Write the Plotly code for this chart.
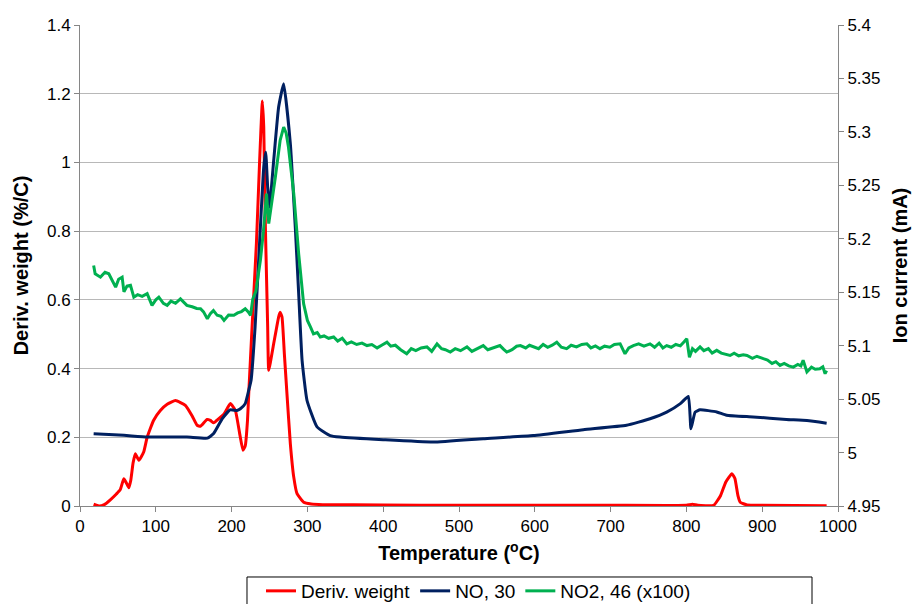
import plotly.graph_objects as go

# ---------------- data ----------------
# Deriv. weight (%/C), left axis
red_temp = [18, 25, 32, 40, 48, 53, 57.8, 61, 64.4, 67, 70, 73, 77.6, 84, 88.6, 97, 106, 115, 126,
            139, 148, 154.5, 159, 167.7, 172, 176.4, 182, 190, 198.4, 205, 210.7, 215, 218, 221,
            222.6, 227, 232.7, 237, 240.6, 242.4, 244.6, 247.6, 249, 255.5, 262, 264, 266.5,
            269.6, 273, 277.5, 282, 286.3, 295, 305, 320, 400, 500, 600, 700, 800, 808, 815,
            836, 845, 852, 860, 864, 868, 871, 880, 900, 985]
red_val = [0.005, 0.0, 0.004, 0.018, 0.035, 0.047, 0.079, 0.068, 0.053, 0.075, 0.125, 0.152,
           0.133, 0.157, 0.2, 0.249, 0.278, 0.296, 0.307, 0.293, 0.262, 0.235, 0.232, 0.252,
           0.249, 0.242, 0.252, 0.268, 0.298, 0.278, 0.21, 0.162, 0.175, 0.25, 0.327, 0.521,
           0.763, 1.006, 1.179, 1.103, 0.81, 0.521, 0.395, 0.472, 0.55, 0.564, 0.55, 0.443,
           0.328, 0.181, 0.084, 0.036, 0.011, 0.006, 0.004, 0.003, 0.002, 0.002, 0.002, 0.002,
           0.005, 0.002, 0.002, 0.03, 0.07, 0.094, 0.08, 0.03, 0.011, 0.003, 0.002, 0.001]

# NO, 30 -- ion current (mA), right axis
no_temp = [18, 58, 89, 141, 168, 176, 187.5, 198, 207, 211.6, 218, 222.5, 225.7, 231, 238,
           242.4, 245, 247.6, 250, 255.5, 262, 268.7, 277.5, 284, 288.5, 293, 299.5, 312.7,
           330, 343, 400, 466, 532, 598, 664, 721, 752, 774, 792, 802.6, 806, 811.5, 818,
           840, 853, 888, 932, 959, 985]
no_val = [5.0176, 5.0161, 5.0145, 5.0145, 5.0135, 5.0175, 5.0316, 5.0400, 5.0394, 5.0410,
          5.0458, 5.0580, 5.0676, 5.1175, 5.2110, 5.2670, 5.2810, 5.2480, 5.2296, 5.2730,
          5.3230, 5.3450, 5.2888, 5.2110, 5.1487, 5.0863, 5.0487, 5.0240, 5.0159, 5.0145,
          5.0120, 5.0098, 5.0130, 5.0159, 5.0214, 5.0255, 5.0316, 5.0378, 5.0458, 5.0525,
          5.0223, 5.0378, 5.0400, 5.0380, 5.0349, 5.0333, 5.0310, 5.0300, 5.0275]

# NO2, 46 (x100) -- ion current (mA), right axis
no2_temp = [18, 20, 27, 33, 38, 43, 47, 51, 55.6, 58, 62, 66.6, 71, 76, 82, 88.6, 95, 100, 104,
            110, 115, 120, 126, 132.5, 141, 148, 154, 159, 163, 168, 172, 176, 181, 186, 190,
            196, 203, 208, 213, 218, 222, 225, 228, 232, 238, 242, 246, 249, 253, 257.7, 264,
            268.7, 272, 275, 282, 288.5, 295, 300, 304, 308, 313, 317, 322, 328, 334.6, 340,
            346, 352, 358, 365, 372, 378.6, 385, 392, 398, 405, 410, 416, 423, 431, 437, 443,
            450, 457.7, 464, 471, 477, 482, 488.5, 495, 502, 510.5, 517, 524, 532, 538, 545,
            554, 559, 563, 570, 576, 581, 588, 593, 598, 605, 611, 617, 623, 629, 635, 642,
            648, 655, 662, 668.7, 674, 680, 686, 692, 699, 705, 712.6, 719, 724, 730, 737,
            744, 752, 758, 764, 769, 774, 780, 786, 792, 797, 800.5, 804, 808, 812, 818, 823,
            829, 834, 840, 846, 852, 857.6, 863, 869, 875, 880, 887, 893, 901.5, 907, 913,
            918, 923.5, 929, 935, 941, 947, 951, 954, 959, 965, 970, 976, 980, 983, 985]
no2_val = [5.1750, 5.1673, 5.1641, 5.1686, 5.1673, 5.1605, 5.1548, 5.1621, 5.1641, 5.1503,
           5.1557, 5.1564, 5.1454, 5.1477, 5.1461, 5.1486, 5.1377, 5.1429, 5.1454, 5.1396,
           5.1377, 5.1416, 5.1396, 5.1438, 5.1377, 5.1364, 5.1348, 5.1345, 5.1316, 5.1252,
           5.1300, 5.1329, 5.1284, 5.1274, 5.1236, 5.1287, 5.1284, 5.1306, 5.1319, 5.1345,
           5.1316, 5.1284, 5.1438, 5.1509, 5.1798, 5.2071, 5.2422, 5.2142, 5.2329, 5.2576,
           5.2920, 5.3045, 5.2988, 5.2859, 5.2422, 5.1859, 5.1393, 5.1236, 5.1175, 5.1110,
           5.1123, 5.1081, 5.1091, 5.1069, 5.1081, 5.1043, 5.1069, 5.1017, 5.1036, 5.1011,
           5.1024, 5.1001, 5.1011, 5.0979, 5.1004, 5.1033, 5.0995, 5.1004, 5.0962, 5.0924,
           5.0972, 5.0953, 5.0979, 5.0988, 5.0946, 5.1017, 5.0972, 5.0962, 5.0940, 5.0972,
           5.0953, 5.0988, 5.0946, 5.0972, 5.1001, 5.0962, 5.0979, 5.1001, 5.0966, 5.0940,
           5.0962, 5.0995, 5.1001, 5.0979, 5.1004, 5.0988, 5.0972, 5.1011, 5.0985, 5.1004,
           5.1033, 5.0985, 5.0972, 5.1004, 5.0988, 5.1011, 5.1017, 5.0979, 5.0998, 5.0972,
           5.0995, 5.0985, 5.1011, 5.1017, 5.0924, 5.0979, 5.1001, 5.1017, 5.0995, 5.1017,
           5.0985, 5.1024, 5.0979, 5.1001, 5.0985, 5.1011, 5.0998, 5.1036, 5.1065, 5.0892,
           5.0972, 5.0946, 5.0988, 5.0953, 5.0972, 5.0930, 5.0956, 5.0930, 5.0921, 5.0908,
           5.0930, 5.0905, 5.0914, 5.0908, 5.0882, 5.0901, 5.0879, 5.0866, 5.0834, 5.0850,
           5.0815, 5.0834, 5.0811, 5.0799, 5.0824, 5.0811, 5.0863, 5.0754, 5.0799, 5.0779,
           5.0783, 5.0802, 5.0738, 5.0766]

x_ticks = [0, 100, 200, 300, 400, 500, 600, 700, 800, 900, 1000]
left_ticks = [0, 0.2, 0.4, 0.6, 0.8, 1.0, 1.2, 1.4]
left_labels = ["0", "0.2", "0.4", "0.6", "0.8", "1", "1.2", "1.4"]
right_ticks = [4.95, 5.0, 5.05, 5.1, 5.15, 5.2, 5.25, 5.3, 5.35, 5.4]
right_labels = ["4.95", "5", "5.05", "5.1", "5.15", "5.2", "5.25", "5.3", "5.35", "5.4"]

# ---------------- figure ----------------
fig = go.Figure()
fig.add_trace(go.Scatter(x=red_temp, y=red_val, mode="lines", name="Deriv. weight",
                         line=dict(color="#FF0000", width=3, shape="spline", smoothing=0.4),
                         yaxis="y"))
fig.add_trace(go.Scatter(x=no_temp, y=no_val, mode="lines", name="NO, 30",
                         line=dict(color="#002060", width=3, shape="spline", smoothing=0.4),
                         yaxis="y2"))
fig.add_trace(go.Scatter(x=no2_temp, y=no2_val, mode="lines", name="NO2, 46 (x100)",
                         line=dict(color="#00B050", width=3), yaxis="y2"))

axis_grey = "#868686"
fig.update_layout(
    width=915, height=604,
    margin=dict(l=80, r=77, t=25, b=98, autoexpand=False),
    paper_bgcolor="white", plot_bgcolor="white",
    font=dict(family="Arial, Liberation Sans", size=17, color="black"),
    showlegend=True,
    xaxis=dict(range=[0, 1000], tickvals=x_ticks, ticktext=[str(v) for v in x_ticks],
               showgrid=False, zeroline=False, showline=True, linecolor=axis_grey, linewidth=1,
               ticks="outside", ticklen=5, tickcolor=axis_grey, automargin=False,
               tickfont=dict(size=17),
               title=dict(text="<b>Temperature (<sup>o</sup>C)</b>", font=dict(size=20), standoff=10)),
    yaxis=dict(range=[0, 1.4], tickvals=left_ticks, ticktext=left_labels,
               showgrid=True, gridcolor="#b8b8b8", gridwidth=1.3, zeroline=False,
               showline=True, linecolor=axis_grey, linewidth=1, automargin=False,
               ticks="outside", ticklen=5, tickcolor=axis_grey, tickfont=dict(size=17),
               title=dict(text="<b>Deriv. weight (%/C)</b>", font=dict(size=20), standoff=12)),
    yaxis2=dict(range=[4.95, 5.4], tickvals=right_ticks, ticktext=right_labels,
                overlaying="y", side="right", showgrid=False, zeroline=False,
                showline=True, linecolor=axis_grey, linewidth=1, automargin=False,
                ticks="outside", ticklen=5, tickcolor=axis_grey, tickfont=dict(size=17),
                title=dict(text="<b>Ion current (mA)</b>", font=dict(size=20), standoff=13)),
    legend=dict(orientation="h", xref="container", yref="container",
                x=261 / 915, xanchor="left", y=(604 - 572) / 604, yanchor="top",
                bgcolor="rgba(0,0,0,0)", borderwidth=0, font=dict(size=19),
                itemwidth=30, tracegroupgap=0),
    shapes=[dict(type="rect", xref="paper", yref="paper", x0=0.2203, x1=0.9657,
                 y0=-0.1476, y1=-0.25, line=dict(color="black", width=1),
                 fillcolor="white", layer="below")],
)

fig.write_html("out.html")
